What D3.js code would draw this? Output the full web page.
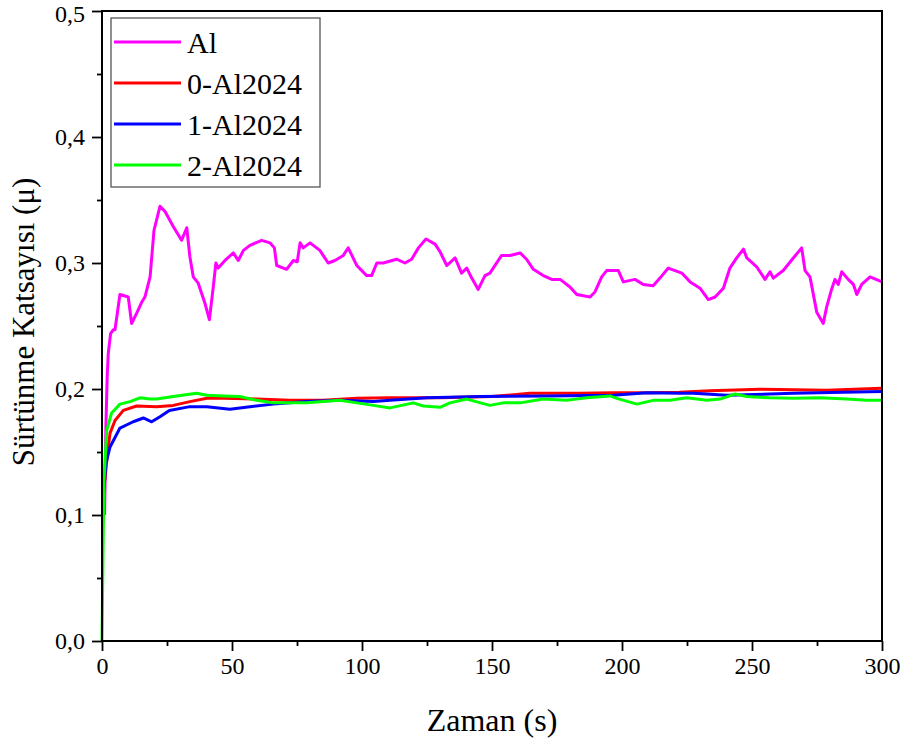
<!DOCTYPE html>
<html>
<head>
<meta charset="utf-8">
<script src="https://cdn.jsdelivr.net/npm/d3@7"></script>
<style>
  body { margin: 0; background: #fff; }
  svg text { font-family: "Liberation Serif", "Times New Roman", Times, Tinos, "Nimbus Roman", "DejaVu Serif", serif; fill: #000; }
</style>
</head>
<body>
<svg id="chart" width="906" height="749"></svg>
<script>
// friction coefficient vs time

const serifFont = '"Liberation Serif", "Times New Roman", Times, Tinos, "Nimbus Roman", "DejaVu Serif", serif';

const seriesNames = ["Al", "0-Al2024", "1-Al2024", "2-Al2024"];
const seriesColors = ["#ff00ff", "#ff0000", "#0000ff", "#00ff00"];

const xTicks = [0, 50, 100, 150, 200, 250, 300];
const yTicks = [0, 0.1, 0.2, 0.3, 0.4, 0.5];

// Al
const alTime = [1.0, 1.5, 2.0, 2.4, 3.3, 4.3, 5, 6.9, 10.1, 11.4, 13.3, 15.3, 16.5, 18.5, 20, 22.3, 24.2, 27.4, 30.6, 32.6, 33.8, 35.1, 37, 39.6, 41.3, 42.8, 43.8, 44.7, 47.3, 50.5, 52.4, 54.4, 56.9, 61.4, 64.6, 66.3, 67.2, 71, 73.6, 75.1, 76.2, 77.4, 80, 83.8, 87, 89.6, 92.8, 94.7, 98, 101.8, 103.7, 105.7, 108.2, 113.3, 116.5, 119.1, 121.7, 124.6, 128.1, 130, 132.6, 135.8, 138.3, 140.3, 142.2, 144.7, 147.3, 149.2, 153.7, 156.9, 160.8, 163.3, 165.9, 169.7, 173, 176.2, 180, 182.6, 187.7, 189.6, 192.2, 194.1, 198.6, 200.5, 205, 208.2, 212, 214.6, 217.8, 223, 226.2, 230, 233.2, 235.8, 239, 241.5, 244.1, 246.7, 248, 251.8, 255, 256.9, 258.2, 262, 265.9, 269.1, 270.4, 272.3, 274.9, 277.4, 278.7, 280.6, 281.9, 283.2, 284.5, 287, 289, 290.3, 292.2, 295.4, 300];
const alMu = [0.100, 0.170, 0.210, 0.228, 0.244, 0.247, 0.247, 0.275, 0.273, 0.252, 0.260, 0.269, 0.273, 0.289, 0.326, 0.345, 0.341, 0.329, 0.318, 0.328, 0.305, 0.289, 0.284, 0.268, 0.255, 0.281, 0.300, 0.296, 0.302, 0.308, 0.302, 0.310, 0.314, 0.318, 0.316, 0.312, 0.298, 0.295, 0.302, 0.301, 0.316, 0.312, 0.316, 0.310, 0.300, 0.302, 0.306, 0.312, 0.298, 0.290, 0.290, 0.300, 0.300, 0.303, 0.300, 0.303, 0.312, 0.319, 0.315, 0.309, 0.298, 0.304, 0.292, 0.296, 0.288, 0.279, 0.290, 0.292, 0.306, 0.306, 0.308, 0.303, 0.295, 0.290, 0.287, 0.287, 0.281, 0.275, 0.273, 0.277, 0.289, 0.294, 0.294, 0.285, 0.287, 0.283, 0.282, 0.288, 0.296, 0.292, 0.285, 0.280, 0.271, 0.273, 0.280, 0.296, 0.304, 0.311, 0.304, 0.297, 0.287, 0.293, 0.288, 0.294, 0.304, 0.312, 0.294, 0.289, 0.261, 0.252, 0.265, 0.279, 0.287, 0.283, 0.293, 0.287, 0.283, 0.275, 0.283, 0.289, 0.285];

// 0-Al2024
const al0Time = [0.6, 1.2, 2.4, 3.1, 5, 8.2, 13.3, 21, 27.4, 33.8, 40.3, 46.7, 59.5, 72.3, 85, 98, 110.8, 130, 150, 164.6, 183.8, 196.7, 209.5, 222, 233.8, 253, 278.7, 300];
const al0Mu = [0.120, 0.130, 0.154, 0.165, 0.175, 0.183, 0.1865, 0.186, 0.187, 0.190, 0.1926, 0.1926, 0.192, 0.191, 0.191, 0.1926, 0.193, 0.193, 0.194, 0.1966, 0.1966, 0.197, 0.197, 0.1975, 0.1987, 0.1998, 0.199, 0.2005];

// 1-Al2024
const al1Time = [0.3, 0.5, 1.5, 3.1, 6.9, 12, 15.9, 19.1, 22.3, 25.9, 33.8, 40.3, 49.2, 56.9, 65.9, 78.7, 91.5, 104.4, 110.8, 125, 145.4, 171, 196.7, 209.5, 222.3, 227.4, 240.3, 265.9, 300];
const al1Mu = [0.100, 0.115, 0.141, 0.154, 0.169, 0.174, 0.177, 0.174, 0.178, 0.183, 0.186, 0.186, 0.184, 0.186, 0.188, 0.190, 0.191, 0.190, 0.191, 0.193, 0.194, 0.1945, 0.195, 0.197, 0.1966, 0.1966, 0.195, 0.1966, 0.198];

// 2-Al2024
const al2Time = [0, 0.5, 0.8, 1.8, 3.7, 6.9, 10.8, 14.6, 18.5, 21, 27.4, 36.4, 40.3, 46.7, 53, 59.5, 65.9, 72.3, 78.7, 91.5, 98, 104.4, 110.8, 119.7, 123.6, 130, 133.8, 140.3, 149.2, 154.3, 160.8, 169.7, 178.7, 186.4, 195.4, 198, 205.7, 212, 218.5, 224.9, 232.6, 237.7, 243.5, 248, 256.9, 265.9, 276.2, 286.4, 294.1, 300];
const al2Mu = [0, 0.090, 0.128, 0.167, 0.181, 0.188, 0.190, 0.193, 0.192, 0.192, 0.194, 0.1966, 0.195, 0.1945, 0.194, 0.191, 0.189, 0.189, 0.189, 0.191, 0.189, 0.187, 0.185, 0.189, 0.1865, 0.1855, 0.189, 0.192, 0.187, 0.189, 0.189, 0.192, 0.191, 0.193, 0.1945, 0.1926, 0.188, 0.191, 0.191, 0.193, 0.191, 0.192, 0.196, 0.194, 0.193, 0.1926, 0.193, 0.192, 0.191, 0.191];

const allTimes = [alTime, al0Time, al1Time, al2Time];
const allMus = [alMu, al0Mu, al1Mu, al2Mu];

// plot box inside the svg
const margin = { top: 11, right: 24, bottom: 108, left: 102 };
const width = 906 - margin.left - margin.right;
const height = 749 - margin.top - margin.bottom;

const svg = d3.select("#chart");
const chartArea = svg.append("g")
  .attr("transform", `translate(${margin.left},${margin.top})`);

const xScale = d3.scaleLinear().domain([0, 300]).range([0, width]);
const yScale = d3.scaleLinear().domain([0, 0.5]).range([height, 0]);

// curves
const line = d3.line()
  .x(function (d) { return xScale(d[0]); })
  .y(function (d) { return yScale(d[1]); });

seriesNames.forEach(function (name, i) {
  let pts = allTimes[i].map(function (t, j) { return [t, allMus[i][j]]; });
  chartArea.append("path")
    .datum(pts)
    .attr("fill", "none")
    .attr("stroke", seriesColors[i])
    .attr("stroke-width", 3)
    .attr("stroke-linejoin", "round")
    .attr("d", line);
});

// minor ticks first, then the major axes over them
const xMinor = d3.axisBottom(xScale).tickValues(d3.range(25, 300, 50)).tickSize(5).tickFormat("");
const yMinor = d3.axisLeft(yScale).tickValues(d3.range(0.05, 0.5, 0.1)).tickSize(5).tickFormat("");

chartArea.append("g").attr("class", "axis minor")
  .attr("transform", `translate(0,${height})`)
  .call(xMinor);
chartArea.append("g").attr("class", "axis minor")
  .call(yMinor);

const xAxis = d3.axisBottom(xScale).tickValues(xTicks).tickSize(10).tickPadding(6)
  .tickFormat(d3.format("d"));
const yAxis = d3.axisLeft(yScale).tickValues(yTicks).tickSize(10).tickPadding(7)
  .tickFormat(function (d) { return d3.format(".1f")(d).replace(".", ","); });

chartArea.append("g").attr("class", "axis")
  .attr("transform", `translate(0,${height})`)
  .call(xAxis);
const yAxisG = chartArea.append("g").attr("class", "axis")
  .call(yAxis);

chartArea.selectAll(".axis").attr("font-family", serifFont);
chartArea.selectAll(".axis .domain").remove();
chartArea.selectAll(".axis line")
  .attr("stroke", "#000")
  .attr("stroke-width", 1.8);
chartArea.selectAll(".axis text")
  .style("font-family", serifFont)
  .style("font-size", "24px")
  .attr("fill", "#000");

// the top label sits right at the svg edge, push it down a hair so it isn't clipped
yAxisG.selectAll(".tick text")
  .filter(function (d) { return d === 0.5; })
  .attr("dy", "0.45em");

// frame around the plot
chartArea.append("rect")
  .attr("x", 0)
  .attr("y", 0)
  .attr("width", width)
  .attr("height", height)
  .attr("fill", "none")
  .attr("stroke", "#000")
  .attr("stroke-width", 2);

// axis titles
svg.append("text")
  .attr("x", margin.left + width / 2)
  .attr("y", 731)
  .attr("text-anchor", "middle")
  .style("font-family", serifFont)
  .style("font-size", "32px")
  .text("Zaman (s)");

svg.append("text")
  .attr("transform", "translate(34,322) rotate(-90)")
  .attr("text-anchor", "middle")
  .style("font-family", serifFont)
  .style("font-size", "31px")
  .text("Sürtünme Katsayısı (μ)");

// legend
const legend = svg.append("g")
  .attr("transform", "translate(111,18)");

legend.append("rect")
  .attr("width", 209)
  .attr("height", 169)
  .attr("fill", "#fff")
  .attr("stroke", "#555")
  .attr("stroke-width", 1.3);

const rowScale = d3.scalePoint().domain(seriesNames).range([24, 147]);

seriesNames.forEach(function (name, i) {
  let ry = rowScale(name);
  legend.append("line")
    .attr("x1", 3)
    .attr("x2", 70)
    .attr("y1", ry)
    .attr("y2", ry)
    .attr("stroke", seriesColors[i])
    .attr("stroke-width", 3);
  legend.append("text")
    .attr("x", 76)
    .attr("y", ry + 10.5)
    .style("font-family", serifFont)
    .style("font-size", "30px")
    .text(name);
});
</script>
</body>
</html>
